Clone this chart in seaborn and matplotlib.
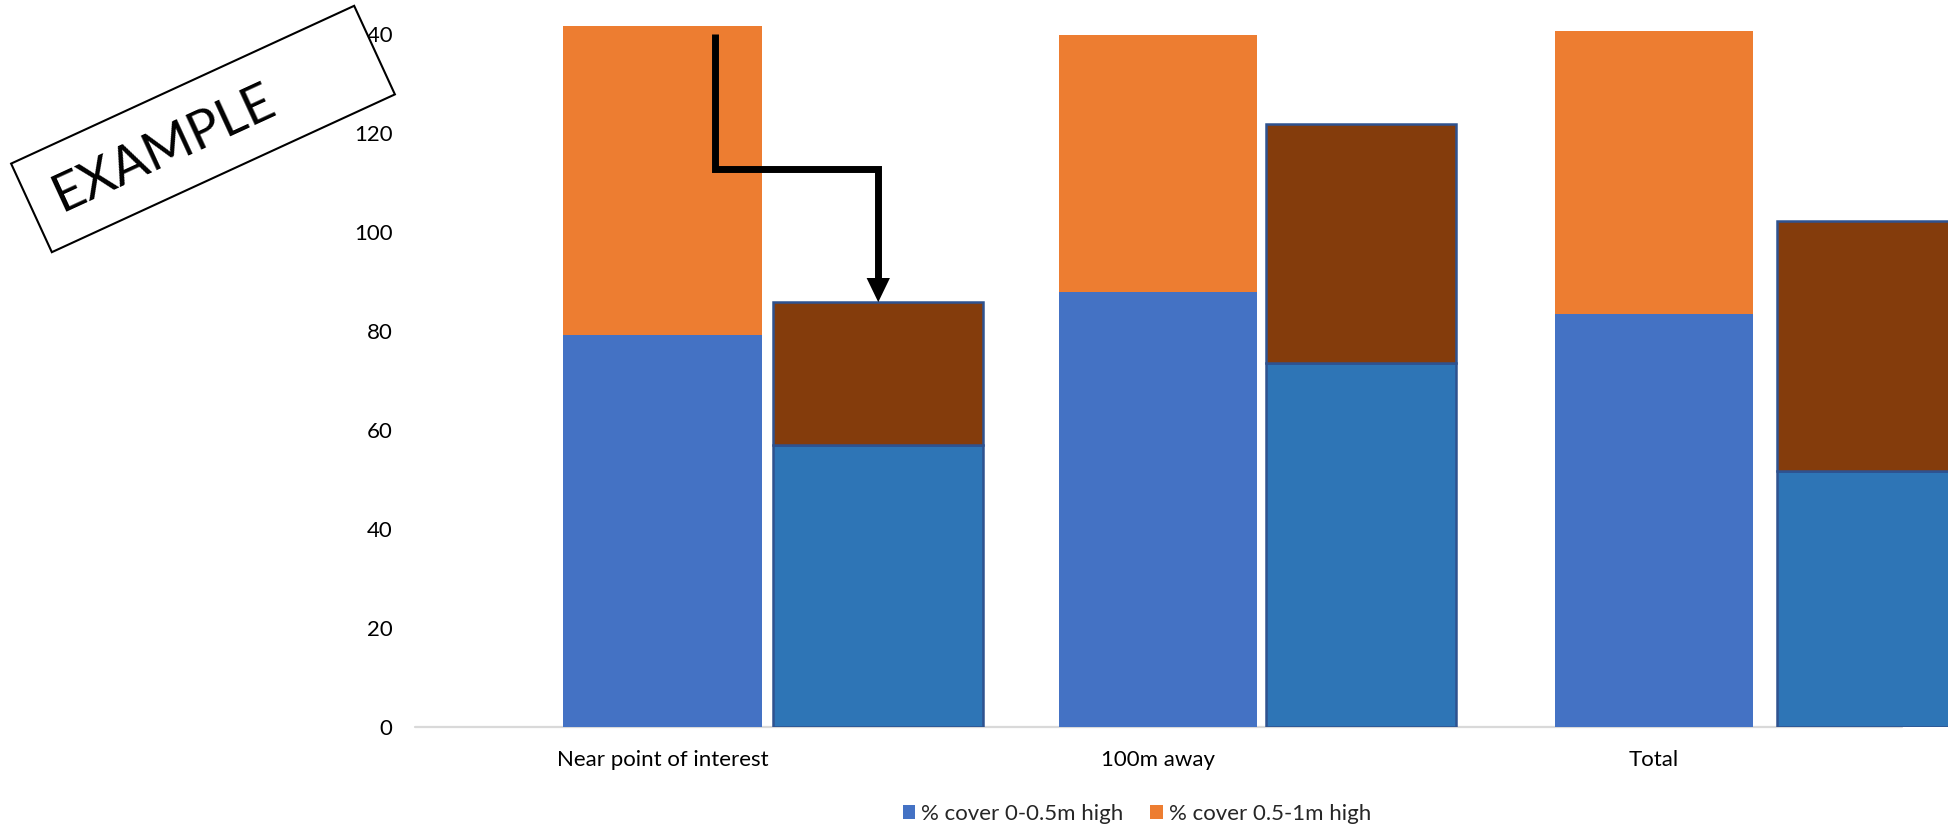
import matplotlib
matplotlib.use("Agg")
import matplotlib.pyplot as plt
import seaborn as sns
from matplotlib.patches import Patch, Rectangle
from matplotlib.transforms import Affine2D

# ---- data -------------------------------------------------------------
categories = ["Near point of interest", "100m away", "Total"]
cover_low = [79.2, 87.9, 83.5]        # % cover 0-0.5m high
cover_high = [62.4, 51.9, 57.2]       # % cover 0.5-1m high
second_low = [56.9, 73.6, 51.7]       # overlaid comparison bars, lower part
second_high = [28.9, 48.3, 50.5]      # overlaid comparison bars, upper part
y_ticks = [0, 20, 40, 60, 80, 100, 120, 140]
legend_labels = ["% cover 0-0.5m high", "% cover 0.5-1m high"]

# ---- styling / layout ---------------------------------------------------
C_LOW = "#4472C4"
C_HIGH = "#ED7D31"
C2_LOW = "#2E75B6"
C2_HIGH = "#843C0C"
C2_EDGE = "#2F528F"
BAR_W = 0.40
second_offsets = [0.2235, 0.217, 0.248]   # left edge relative to category centre
second_widths = [0.4235, 0.383, 0.40]
FONT = ["Lato", "DejaVu Sans"]
FS = 16

sns.set_theme(style="white")
plt.rcParams["font.family"] = FONT

W, H = 1949, 826
fig = plt.figure(figsize=(W / 100, H / 100), dpi=100)
ax = fig.add_axes([414.6 / W, 1 - 726.7 / H, 1 - 414.6 / W, 726.7 / H])

# stacked primary bars: full stack in orange, lower part in blue on top
totals = [a + b for a, b in zip(cover_low, cover_high)]
sns.barplot(x=categories, y=totals, color=C_HIGH, width=BAR_W, saturation=1,
            errorbar=None, ax=ax, linewidth=0, zorder=2)
sns.barplot(x=categories, y=cover_low, color=C_LOW, width=BAR_W, saturation=1,
            errorbar=None, ax=ax, linewidth=0, zorder=2)

# secondary stacked bars, offset to the right of each category
for i in range(len(categories)):
    xc = i + second_offsets[i] + second_widths[i] / 2
    ax.bar(xc, second_low[i], width=second_widths[i], color=C2_LOW,
           edgecolor=C2_EDGE, linewidth=1.8, zorder=3)
    ax.bar(xc, second_high[i], bottom=second_low[i], width=second_widths[i],
           color=C2_HIGH, edgecolor=C2_EDGE, linewidth=1.8, zorder=3)

# category axis line
ax.plot([-0.5, len(categories) - 0.5], [0, 0], color="#D9D9D9", lw=1.6,
        zorder=1, clip_on=False)

ax.set_xlim(-0.5, 2.595)
ax.set_ylim(0, 146.87)
ax.set_yticks(y_ticks)
ax.set_yticklabels([str(v) for v in y_ticks])
ax.set_xticks(range(len(categories)))
ax.set_xticklabels(categories)
ax.set_xlabel("")
ax.set_ylabel("")
for s in ax.spines.values():
    s.set_visible(False)
ax.tick_params(axis="both", length=0, labelsize=FS, labelcolor="black")
ax.tick_params(axis="y", pad=16)
ax.tick_params(axis="x", pad=17)
ax.grid(False)

# elbow arrow pointing at the top of the first comparison bar
x_start = 0.106
elbow_y = 112.8
x_end = second_offsets[0] + second_widths[0] / 2
tip_y = second_low[0] + second_high[0]
head_len = 4.9
ax.plot([x_start, x_start, x_end, x_end],
        [y_ticks[-1], elbow_y, elbow_y, tip_y + head_len],
        color="black", lw=5, solid_joinstyle="miter",
        solid_capstyle="butt", zorder=5, clip_on=False)
ax.annotate("", xy=(x_end, tip_y), xytext=(x_end, tip_y + head_len + 0.5),
            arrowprops=dict(arrowstyle="-|>,head_length=0.87,head_width=0.42",
                            mutation_scale=20, color="black", lw=0,
                            shrinkA=0, shrinkB=0),
            zorder=6)

# legend
handles = [Patch(facecolor=C_LOW, edgecolor="none"),
           Patch(facecolor=C_HIGH, edgecolor="none")]
fig.legend(handles, legend_labels, loc="center",
           bbox_to_anchor=(1137 / W, 12 / H), ncol=2, frameon=False,
           fontsize=FS, handlelength=0.55, handleheight=0.55,
           handletextpad=0.3, columnspacing=1.2)

# rotated "EXAMPLE" stamp
cx, cy, bw, bh, ang = 203, H - 129, 377.6, 97.5, 24.7
stamp = Rectangle((cx - bw / 2, cy - bh / 2), bw, bh, facecolor="white",
                  edgecolor="black", linewidth=1.5,
                  transform=Affine2D().rotate_deg_around(cx, cy, ang))
stamp.set_zorder(10)
fig.add_artist(stamp)
fig.text(163.5 / W, 1 - 149 / H, "EXAMPLE", rotation=ang, rotation_mode="anchor",
         ha="center", va="center", fontsize=38, color="black", zorder=11)

fig.savefig("out.png", dpi=100)
